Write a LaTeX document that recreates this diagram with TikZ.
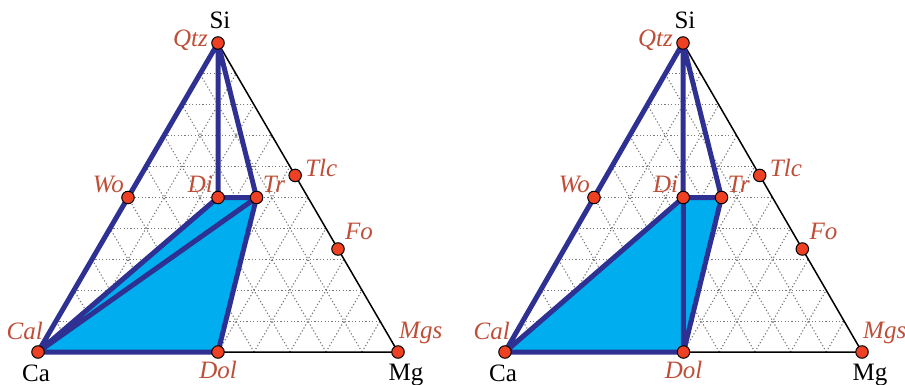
\documentclass[tikz,border=0pt]{standalone}
\usepackage{fontspec}
\setmainfont{Liberation Serif}
\usepackage{tikz}
\usetikzlibrary{calc}
\definecolor{tieline}{RGB}{46, 49, 146}
\definecolor{fieldblue}{RGB}{0, 174, 239}
\definecolor{phasered}{RGB}{238, 64, 35}
\definecolor{labelred}{RGB}{190, 78, 56}
\definecolor{gridgray}{RGB}{120, 120, 120}

\begin{document}
\begin{tikzpicture}[x=1pt, y=-1pt,
            gridline/.style={gridgray, line width=1.1pt, dash pattern=on 1.2pt off 2.2pt},
            tie/.style={tieline, line width=5pt, line join=round, line cap=round},
            sideline/.style={black, line width=1.5pt},
            phasedot/.style={circle, fill=phasered, draw=black, line width=1pt,
                  minimum size=12.5pt, inner sep=0pt},
            mineral/.style={text=labelred, font=\fontsize{25}{28}\selectfont\itshape, inner sep=0pt},
            elemlabel/.style={text=black, font=\fontsize{25}{28}\selectfont, inner sep=0pt, anchor=base}]
    \useasboundingbox (0,0) rectangle (905,385);
    \foreach \p/\xa/\xb/\xc/\ea/\eb in {L/38/398/218/Cal/Tr, R/505/862/683/Di/Dol} {
        \coordinate (\p-Cal) at (\xa,352);
        \coordinate (\p-Mgs) at (\xb,352);
        \coordinate (\p-Qtz) at (\xc,43);
        \coordinate (\p-Dol) at ($(\p-Cal)!0.5!(\p-Mgs)$);
        \coordinate (\p-Wo) at ($(\p-Cal)!0.5!(\p-Qtz)$);
        \coordinate (\p-Di) at ($(\p-Dol)!0.5!(\p-Qtz)$);
        \coordinate (\p-Tr) at ($($(\p-Cal)!5/7!(\p-Mgs)$)!0.5!(\p-Qtz)$);
        \coordinate (\p-Tlc) at ($(\p-Mgs)!4/7!(\p-Qtz)$);
        \coordinate (\p-Fo) at ($(\p-Mgs)!1/3!(\p-Qtz)$);
        \foreach \i in {1,...,9} {
            \draw[gridline] ($(\p-Cal)!\i/10!(\p-Qtz)$) -- ($(\p-Mgs)!\i/10!(\p-Qtz)$);
            \draw[gridline] ($(\p-Cal)!\i/10!(\p-Mgs)$) -- ($(\p-Qtz)!\i/10!(\p-Mgs)$);
            \draw[gridline] ($(\p-Mgs)!\i/10!(\p-Cal)$) -- ($(\p-Qtz)!\i/10!(\p-Cal)$);
        }
        \fill[fieldblue] (\p-Cal) -- (\p-Di) -- (\p-Tr) -- (\p-Dol) -- cycle;
        \draw[sideline] (\p-Qtz) -- (\p-Mgs) -- (\p-Dol);
        \draw[tie] (\p-Cal) -- (\p-Qtz) -- (\p-Di) -- (\p-Tr) -- (\p-Qtz)
            (\p-Cal) -- (\p-Di) (\p-Tr) -- (\p-Dol) -- (\p-Cal) (\p-\ea) -- (\p-\eb);
        \foreach \n in {Qtz,Wo,Di,Tr,Tlc,Fo,Mgs,Cal,Dol}
            \node[phasedot] (\p-\n-dot) at (\p-\n) {};
        \node[mineral, anchor=base east] (\p-Qtz-name) at ($(\p-Qtz)+(-10,4)$) {Qtz};
        \node[mineral, anchor=base east] (\p-Wo-name) at ($(\p-Wo)+(-4,-5.5)$) {Wo};
        \node[mineral, anchor=base east] (\p-Di-name) at ($(\p-Di)+(-5,-5.5)$) {Di};
        \node[mineral, anchor=base west] (\p-Tr-name) at ($(\p-Tr)+(6,-5.5)$) {Tr};
        \node[mineral, anchor=base west] (\p-Tlc-name) at ($(\p-Tlc)+(10,1.5)$) {Tlc};
        \node[mineral, anchor=base west] (\p-Fo-name) at ($(\p-Fo)+(7,-10)$) {Fo};
        \node[mineral, anchor=base west] (\p-Mgs-name) at ($(\p-Mgs)+(1,-14)$) {Mgs};
        \node[mineral, anchor=base east] (\p-Cal-name) at ($(\p-Cal)+(5,-13)$) {Cal};
        \node[mineral, anchor=base] (\p-Dol-name) at ($(\p-Dol)+(0,26)$) {Dol};
        \node[elemlabel] (\p-Si) at ($(\p-Qtz)+(2,-14)$) {Si};
        \node[elemlabel] (\p-Ca) at ($(\p-Cal)+(-2,29)$) {Ca};
        \node[elemlabel] (\p-Mg) at ($(\p-Mgs)+(8,28)$) {Mg};
    }
\end{tikzpicture}
\end{document}
